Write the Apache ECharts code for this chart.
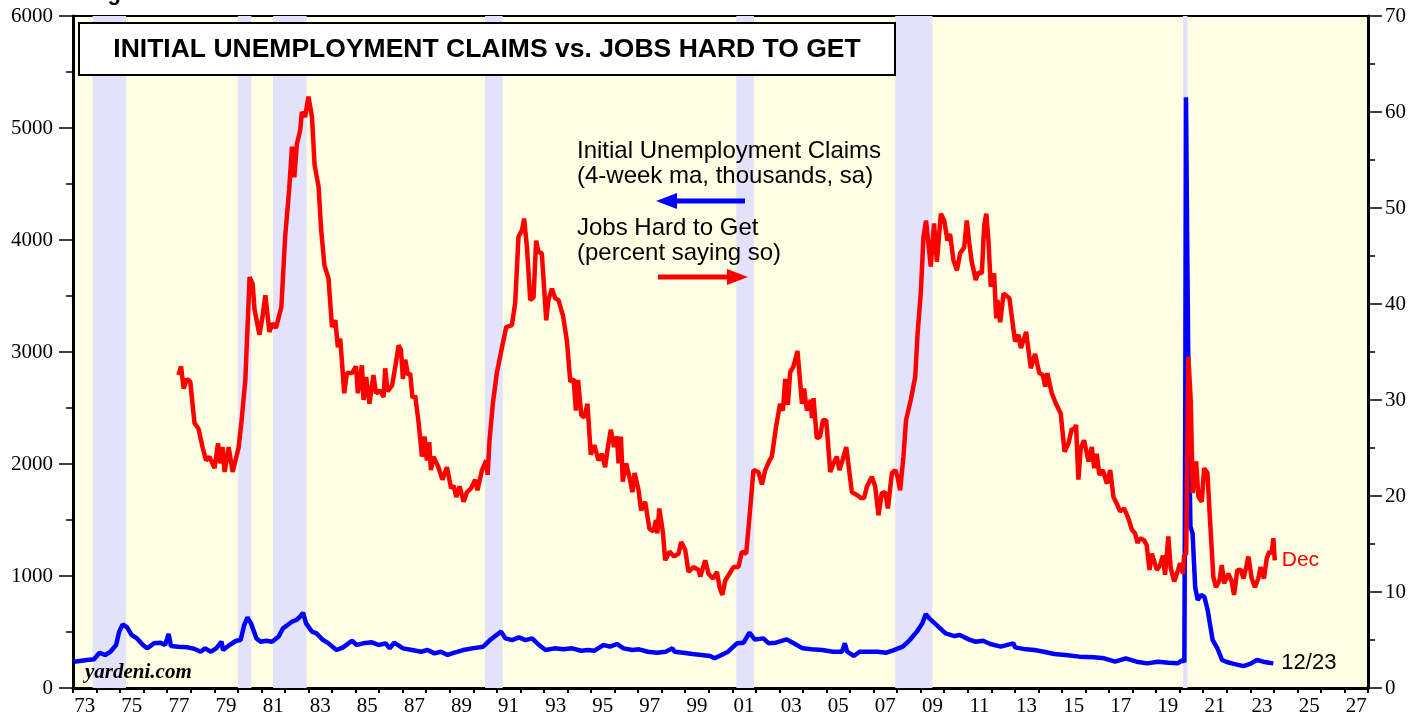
<!DOCTYPE html>
<html lang="en">
<head>
<meta charset="UTF-8" />
<title>Initial Unemployment Claims vs. Jobs Hard to Get</title>
<script src="https://cdn.jsdelivr.net/npm/echarts@6/dist/echarts.min.js"></script>
<style>html, body { margin: 0; padding: 0; background: #fff; }</style>
</head>
<body>
<div id="main" style="width: 1428px; height: 719px"></div>
<script type="text/javascript">
// x-axis labels (two-digit years, placed mid-year)
var yearLabels = ['73','75','77','79','81','83','85','87','89','91','93','95','97','99',
                  '01','03','05','07','09','11','13','15','17','19','21','23','25','27'];

// recessions (start, end in fractional years)
var recessionStart = [1973.83, 1980.0, 1981.5, 1990.5, 2001.17, 2007.92, 2020.14];
var recessionEnd   = [1975.25, 1980.58, 1982.92, 1991.25, 2001.92, 2009.5, 2020.34];

// initial unemployment claims, 4-week ma, thousands (left axis)
var claimsDates = [1973.04,1973.6,1973.89,1974.13,1974.36,1974.59,1974.83,1974.96,1975.11,1975.3,1975.49,1975.72,1975.97,
  1976.15,1976.44,1976.72,1976.91,1977.06,1977.16,1977.48,1977.86,1978.14,1978.42,1978.61,1978.86,1979.08,1979.31,1979.37,
  1979.65,1979.93,1980.12,1980.27,1980.41,1980.56,1980.79,1980.97,1981.2,1981.45,1981.73,1981.92,1982.11,1982.3,1982.49,
  1982.64,1982.77,1982.9,1983.15,1983.34,1983.62,1983.81,1984.19,1984.47,1984.85,1985.04,1985.32,1985.7,1985.98,1986.27,
  1986.45,1986.64,1987.02,1987.4,1987.78,1988.06,1988.35,1988.63,1988.91,1989.2,1989.57,1989.95,1990.42,1990.71,1990.99,
  1991.18,1991.37,1991.65,1991.94,1992.22,1992.5,1992.79,1993.07,1993.45,1993.83,1994.2,1994.58,1994.87,1995.15,1995.53,
  1995.81,1996.1,1996.38,1996.76,1997.04,1997.42,1997.8,1998.17,1998.46,1998.55,1998.93,1999.31,1999.69,2000.06,2000.25,
  2000.54,2000.82,2001.2,2001.48,2001.73,2001.95,2002.32,2002.55,2002.85,2003.31,2003.61,2003.99,2004.37,2004.82,2005.28,
  2005.66,2005.78,2005.88,2006.16,2006.41,2006.8,2007.17,2007.55,2007.86,2008.24,2008.54,2008.84,2009.07,2009.22,2009.37,
  2009.6,2009.83,2010.06,2010.44,2010.66,2011.04,2011.34,2011.65,2011.96,2012.4,2012.94,2013.01,2013.47,2013.84,2014.23,
  2014.68,2015.14,2015.74,2016.35,2016.8,2017.26,2017.71,2018.17,2018.62,2019.08,2019.53,2019.91,2020.14,2020.2,2020.24,
  2020.27,2020.32,2020.4,2020.46,2020.55,2020.66,2020.77,2020.91,2021.05,2021.19,2021.4,2021.6,2021.8,2022.0,2022.3,
  2022.71,2023.0,2023.28,2023.55,2023.8,2023.98];
var claimsValues = [235,250,256,315,295,324,384,503,568,541,473,443,384,
  354,399,405,384,482,375,369,363,351,324,354,324,354,413,339,
  384,422,428,562,630,577,443,413,422,413,458,533,562,592,607,
  636,672,577,503,488,428,405,339,363,422,384,399,408,384,399,
  354,405,354,339,324,339,309,324,295,315,339,354,369,428,473,
  503,443,428,452,428,443,384,339,354,345,354,333,339,333,384,
  369,393,354,339,345,324,315,324,354,324,315,303,295,286,265,
  295,324,399,405,494,434,443,399,405,434,399,354,345,339,324,
  324,399,324,286,324,324,324,315,339,369,428,503,577,660,621,
  577,533,488,464,473,434,413,422,393,369,399,363,345,339,324,
  303,295,280,274,265,235,265,235,220,235,226,220,250,230,2500,
  5275,4000,2200,1440,1380,900,785,830,815,696,430,357,250,232,215,
  195,215,250,235,225,220];

// jobs hard to get, percent (right axis)
var jobsDates = [1977.48,1977.59,1977.7,1977.84,1977.98,1978.16,1978.33,1978.5,1978.65,1978.79,1979.01,1979.16,1979.25,
  1979.35,1979.44,1979.61,1979.78,1980.03,1980.15,1980.32,1980.5,1980.63,1980.71,1980.92,1981.05,1981.17,1981.34,1981.48,
  1981.62,1981.85,1982.01,1982.18,1982.3,1982.4,1982.51,1982.65,1982.72,1982.86,1983.0,1983.15,1983.26,1983.43,1983.54,
  1983.68,1983.85,1984.0,1984.14,1984.25,1984.35,1984.52,1984.63,1984.85,1985.02,1985.1,1985.27,1985.34,1985.45,1985.59,
  1985.76,1985.87,1986.05,1986.19,1986.26,1986.36,1986.55,1986.69,1986.83,1986.93,1987.01,1987.11,1987.23,1987.32,1987.42,
  1987.53,1987.68,1987.82,1987.93,1988.03,1988.13,1988.2,1988.31,1988.52,1988.69,1988.88,1989.06,1989.16,1989.28,1989.42,
  1989.59,1989.73,1989.91,1990.08,1990.18,1990.37,1990.55,1990.61,1990.69,1990.83,1991.0,1991.22,1991.4,1991.64,1991.78,
  1991.92,1992.07,1992.16,1992.28,1992.42,1992.56,1992.67,1992.77,1992.91,1993.1,1993.19,1993.34,1993.48,1993.62,1993.81,
  1993.98,1994.12,1994.26,1994.36,1994.45,1994.59,1994.72,1994.85,1994.99,1995.14,1995.32,1995.46,1995.6,1995.7,1995.84,
  1995.98,1996.1,1996.17,1996.27,1996.35,1996.49,1996.63,1996.76,1996.85,1997.02,1997.13,1997.3,1997.48,1997.65,1997.76,
  1997.82,1997.9,1998.05,1998.15,1998.33,1998.53,1998.72,1998.83,1999.0,1999.14,1999.35,1999.57,1999.64,1999.85,1999.99,
  2000.18,2000.35,2000.46,2000.58,2000.7,2000.88,2001.05,2001.26,2001.41,2001.59,2001.73,2001.9,2002.11,2002.26,2002.4,
  2002.58,2002.68,2002.86,2003.03,2003.15,2003.25,2003.36,2003.46,2003.6,2003.77,2003.96,2004.05,2004.17,2004.34,2004.38,
  2004.45,2004.59,2004.73,2004.85,2004.99,2005.16,2005.3,2005.44,2005.55,2005.7,2005.84,2006.08,2006.29,2006.46,2006.6,
  2006.72,2006.93,2007.07,2007.21,2007.35,2007.49,2007.61,2007.78,2007.92,2008.02,2008.13,2008.27,2008.38,2008.58,2008.77,
  2008.87,2009.01,2009.12,2009.23,2009.43,2009.57,2009.69,2009.86,2010.0,2010.14,2010.25,2010.39,2010.54,2010.68,2010.85,
  2010.96,2011.07,2011.17,2011.34,2011.46,2011.6,2011.7,2011.79,2011.88,2011.98,2012.12,2012.21,2012.26,2012.38,2012.52,
  2012.77,2013.01,2013.15,2013.26,2013.48,2013.68,2013.86,2014.04,2014.19,2014.29,2014.38,2014.57,2014.75,2014.95,2015.11,
  2015.28,2015.42,2015.52,2015.6,2015.7,2015.8,2015.94,2016.13,2016.27,2016.37,2016.48,2016.59,2016.74,2016.91,2017.05,
  2017.19,2017.33,2017.47,2017.64,2017.82,2017.97,2018.11,2018.21,2018.32,2018.49,2018.6,2018.72,2018.82,2019.03,2019.17,
  2019.29,2019.38,2019.52,2019.62,2019.77,2019.91,2020.02,2020.14,2020.19,2020.28,2020.37,2020.47,2020.56,2020.7,2020.8,
  2020.94,2021.04,2021.18,2021.29,2021.43,2021.54,2021.69,2021.79,2021.89,2022.07,2022.21,2022.31,2022.45,2022.6,2022.71,
  2022.82,2022.92,2023.06,2023.2,2023.34,2023.44,2023.58,2023.7,2023.81,2023.91,2023.98,2024.04];
var jobsValues = [32.6,33.5,31.2,32.2,31.9,27.6,27.0,25.1,23.7,24.1,22.9,25.5,23.4,
  25.1,22.5,25.1,22.5,25.0,27.6,32.1,42.8,42.1,39.4,36.8,38.7,40.9,37.1,38.0,
  37.5,39.7,47.0,51.9,56.4,53.2,56.7,58.1,60.0,59.5,61.6,59.5,54.5,52.2,47.7,
  44.0,42.7,37.6,38.3,35.5,36.4,30.7,32.8,32.8,33.5,30.7,33.6,30.0,32.4,29.6,
  32.6,30.7,31.0,30.3,33.3,30.9,31.5,33.5,35.7,35.2,32.2,34.2,32.6,32.8,30.2,
  30.5,27.6,24.1,26.2,23.7,25.6,22.7,24.1,23.0,21.7,23.0,20.8,21.1,19.9,21.0,
  19.4,20.4,20.8,21.7,20.6,22.7,23.7,22.2,25.8,29.6,32.8,35.5,37.6,37.8,40.1,
  47.0,47.7,48.9,45.9,40.4,40.7,46.6,45.4,45.3,38.3,40.4,41.6,40.6,40.4,38.8,
  36.1,31.9,32.2,28.9,32.1,28.4,28.2,29.6,24.3,25.3,23.7,24.4,23.0,24.8,26.9,
  25.1,26.2,23.4,26.2,21.5,23.4,22.0,20.4,22.4,20.6,18.5,19.4,16.6,16.3,17.5,
  16.1,18.7,16.3,13.3,14.2,13.7,14.0,15.2,14.4,12.1,12.6,12.3,11.6,13.3,11.9,
  11.4,12.1,10.5,9.7,11.2,11.9,12.6,12.6,14.2,14.0,17.8,22.7,22.5,21.2,22.7,
  23.7,24.1,27.2,29.6,28.9,32.2,29.5,32.9,33.5,35.1,29.6,31.2,28.9,30.0,28.1,
  30.2,26.0,26.2,27.9,27.9,22.5,23.4,24.1,22.7,23.9,25.1,20.4,20.1,19.8,19.8,
  21.0,22.0,21.0,18.0,20.3,20.4,18.7,22.4,22.7,22.0,20.6,24.1,27.9,30.0,32.4,
  36.9,41.3,47.0,48.7,43.9,48.4,44.4,49.4,48.7,46.6,47.3,44.6,43.5,45.3,45.9,
  48.7,46.3,44.4,42.5,43.3,43.2,48.2,49.4,46.6,41.8,43.2,38.5,40.4,38.1,41.1,
  40.6,36.1,36.8,35.4,37.1,33.3,34.8,32.8,32.6,31.4,32.8,30.7,29.6,28.6,24.6,
  25.5,27.0,26.9,27.4,21.7,25.0,25.8,23.6,25.1,22.9,24.4,22.2,22.7,21.3,22.7,
  19.9,19.2,18.4,18.7,17.7,16.5,16.1,15.1,15.6,15.4,14.9,12.3,14.0,12.3,12.8,
  13.8,11.8,15.8,12.5,11.1,12.1,13.0,11.9,13.8,14.0,34.5,30.0,20.3,23.6,19.9,
  19.4,22.9,22.4,17.5,11.6,10.5,11.2,12.8,10.9,11.9,11.1,9.7,12.3,12.3,11.4,
  12.5,13.7,11.4,10.5,11.4,12.6,11.4,13.5,14.2,14.0,15.6,13.3];

function zip(xs, ys) {
  return xs.map(function (x, i) { return [x, ys[i]]; });
}

var tickYears = [];
for (var y = 1973; y <= 2028; y++) tickYears.push(y);
var labelYears = yearLabels.map(function (l) {
  var n = parseInt(l, 10);
  return (n < 50 ? 2000 : 1900) + n + 0.5;
});

var recessionAreas = recessionStart.map(function (s, i) {
  return [{ xAxis: s }, { xAxis: recessionEnd[i] }];
});

var myChart = echarts.init(document.getElementById('main'));

var serif = '"Liberation Serif", "Times New Roman", serif';
var sans = '"Liberation Sans", Arial, sans-serif';

var option = {
  animation: false,
  backgroundColor: '#ffffff',
  grid: {
    left: 73, right: 60, top: 16, bottom: 31,
    show: true, backgroundColor: '#FFFFE4', borderColor: '#000', borderWidth: 2
  },
  xAxis: {
    type: 'value', min: 1973, max: 2028,
    axisLine: { show: true, onZero: false, lineStyle: { color: '#000', width: 3 } },
    axisTick: { show: true, customValues: tickYears, length: 5, lineStyle: { color: '#000', width: 2 } },
    axisLabel: {
      customValues: labelYears, margin: 8, color: '#000', fontFamily: serif, fontSize: 21,
      formatter: function (v) { return String(Math.floor(v) % 100).padStart(2, '0'); }
    },
    splitLine: { show: false }
  },
  yAxis: [
    {
      type: 'value', min: 0, max: 6000, interval: 1000, position: 'left',
      axisLine: { show: true, lineStyle: { color: '#000', width: 3 } },
      axisTick: { show: true, length: 14, lineStyle: { color: '#000', width: 1.5 } },
      minorTick: { show: true, splitNumber: 2, length: 7, lineStyle: { color: '#000', width: 1.5 } },
      axisLabel: { margin: 20, color: '#000', fontFamily: serif, fontSize: 21, formatter: function (v) { return String(v); } },
      splitLine: { show: false }
    },
    {
      type: 'value', min: 0, max: 70, interval: 10, position: 'right',
      axisLine: { show: true, lineStyle: { color: '#000', width: 3 } },
      axisTick: { show: true, length: 14, lineStyle: { color: '#000', width: 1.5 } },
      minorTick: { show: true, splitNumber: 2, length: 7, lineStyle: { color: '#000', width: 1.5 } },
      axisLabel: { margin: 17, color: '#000', fontFamily: serif, fontSize: 21 },
      splitLine: { show: false }
    }
  ],
  series: [
    {
      name: 'Initial Unemployment Claims',
      type: 'line', yAxisIndex: 0, z: 3,
      data: zip(claimsDates, claimsValues),
      showSymbol: false,
      lineStyle: { color: '#0000FF', width: 4.5 },
      itemStyle: { color: '#0000FF' },
      endLabel: { show: true, formatter: '12/23', color: '#000', fontFamily: sans, fontSize: 22, distance: 8 },
      markArea: {
        silent: true,
        itemStyle: { color: '#E2E2FA' },
        data: recessionAreas
      }
    },
    {
      name: 'Jobs Hard to Get',
      type: 'line', yAxisIndex: 1, z: 4,
      data: zip(jobsDates, jobsValues),
      showSymbol: false,
      lineStyle: { color: '#FF0000', width: 4.5 },
      itemStyle: { color: '#FF0000' },
      endLabel: { show: true, formatter: 'Dec', color: '#FF0000', fontFamily: sans, fontSize: 21, distance: 7 }
    }
  ],
  graphic: [
    { type: 'text', left: 88, top: -17, style: { text: 'Figure 6.', font: 'bold 22px ' + sans, fill: '#000' } },
    { type: 'rect', shape: { x: 79, y: 23, width: 816, height: 52 }, style: { fill: '#fff', stroke: '#000', lineWidth: 2 }, z: 10 },
    { type: 'text', x: 487, y: 50, z: 11, style: { text: 'INITIAL UNEMPLOYMENT CLAIMS vs. JOBS HARD TO GET', font: 'bold 26.5px ' + sans, fill: '#000', textAlign: 'center', textVerticalAlign: 'middle' } },
    { type: 'text', x: 577, y: 151, z: 11, style: { text: 'Initial Unemployment Claims', font: '24px ' + sans, fill: '#000', textVerticalAlign: 'middle' } },
    { type: 'text', x: 577, y: 176, z: 11, style: { text: '(4-week ma, thousands, sa)', font: '24px ' + sans, fill: '#000', textVerticalAlign: 'middle' } },
    { type: 'line', z: 11, shape: { x1: 745, y1: 201, x2: 672, y2: 201 }, style: { stroke: '#0000FF', lineWidth: 5 } },
    { type: 'polygon', z: 11, shape: { points: [[656, 201], [677, 193], [677, 209]] }, style: { fill: '#0000FF' } },
    { type: 'text', x: 577, y: 228, z: 11, style: { text: 'Jobs Hard to Get', font: '24px ' + sans, fill: '#000', textVerticalAlign: 'middle' } },
    { type: 'text', x: 577, y: 253, z: 11, style: { text: '(percent saying so)', font: '24px ' + sans, fill: '#000', textVerticalAlign: 'middle' } },
    { type: 'line', z: 11, shape: { x1: 658, y1: 277, x2: 732, y2: 277 }, style: { stroke: '#FF0000', lineWidth: 5 } },
    { type: 'polygon', z: 11, shape: { points: [[748, 277], [727, 269], [727, 285]] }, style: { fill: '#FF0000' } },
    { type: 'text', x: 85, y: 673, z: 11, style: { text: 'yardeni.com', font: 'italic bold 21px ' + serif, fill: '#000', textVerticalAlign: 'middle' } }
  ]
};

myChart.setOption(option);
</script>
</body>
</html>
